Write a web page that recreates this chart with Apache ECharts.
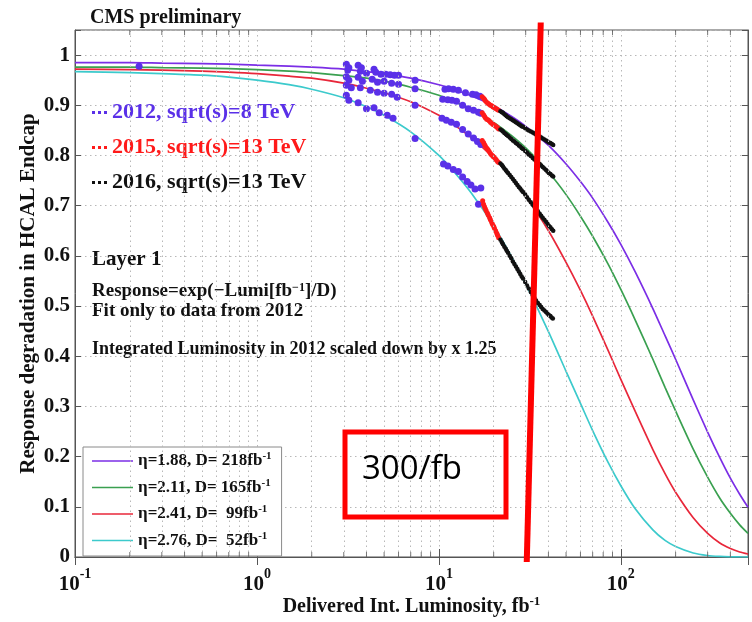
<!DOCTYPE html>
<html><head><meta charset="utf-8">
<script src="https://cdn.jsdelivr.net/npm/echarts@6/dist/echarts.min.js"></script>
<style>html,body{margin:0;padding:0;background:#fff}#c{width:752px;height:622px}</style>
</head><body><div id="c"></div>
<script>
// ---------- data ----------
const lumi = [0.1, 0.2, 0.3, 0.5, 0.7, 1, 1.5, 2, 3, 4, 5, 7, 10, 12, 15, 20, 25, 30, 40, 50, 60, 70, 85, 100, 120, 150, 175, 200, 250, 300, 350, 400, 450, 500];
const fit188 = [0.985,0.985,0.984,0.983,0.982,0.980,0.978,0.976,0.972,0.967,0.963,0.954,0.941,0.932,0.919,0.899,0.878,0.858,0.820,0.783,0.748,0.715,0.667,0.623,0.568,0.495,0.441,0.394,0.313,0.249,0.198,0.157,0.125,0.099];
const fit211 = [0.976,0.976,0.975,0.974,0.973,0.971,0.968,0.965,0.959,0.954,0.948,0.936,0.920,0.908,0.892,0.866,0.840,0.815,0.767,0.722,0.679,0.639,0.584,0.533,0.472,0.394,0.338,0.291,0.215,0.159,0.117,0.087,0.064,0.047];
const fit241 = [0.972,0.971,0.970,0.968,0.966,0.963,0.958,0.954,0.944,0.934,0.925,0.907,0.880,0.862,0.836,0.795,0.756,0.719,0.650,0.587,0.531,0.480,0.412,0.354,0.290,0.214,0.166,0.129,0.078,0.047,0.028,0.017,0.010,0.006];
const fit276 = [0.967,0.965,0.963,0.960,0.956,0.950,0.941,0.932,0.915,0.897,0.880,0.847,0.800,0.769,0.726,0.660,0.599,0.544,0.449,0.370,0.306,0.252,0.189,0.142,0.096,0.054,0.033,0.021,0.008,0.003,0.0012,0.0004,0.0001,0.0];
const fitNames = ['η=1.88, D= 218fb', 'η=2.11, D= 165fb', 'η=2.41, D=  99fb', 'η=2.76, D=  52fb'];
const yearNames = ['2012, sqrt(s)=8 TeV', '2015, sqrt(s)=13 TeV', '2016, sqrt(s)=13 TeV'];

const pts2012 = [
  [0.225,0.978],
  [3.1,0.982],[3.15,0.970],[3.2,0.975],[3.6,0.980],[3.7,0.968],[3.75,0.975],[4.0,0.964],[4.4,0.972],[4.5,0.966],[4.8,0.962],[5.1,0.962],[5.4,0.961],[5.7,0.960],[6.0,0.960],[7.4,0.950],[10.8,0.932],[11.3,0.933],[12.0,0.932],[12.8,0.930],[14.0,0.925],[15.3,0.922],[16.0,0.921],[16.8,0.918],
  [3.1,0.957],[3.2,0.950],[3.6,0.956],[3.8,0.948],[4.3,0.952],[4.6,0.946],[5.0,0.948],[5.5,0.944],[6.0,0.942],[7.4,0.933],[10.5,0.912],[11.2,0.911],[11.8,0.910],[12.5,0.908],[13.5,0.900],[14.5,0.893],[15.5,0.890],[16.5,0.886],[17.0,0.884],
  [3.1,0.940],[3.3,0.935],[3.7,0.935],[4.2,0.930],[4.6,0.926],[5.0,0.924],[5.5,0.922],[5.9,0.916],[7.4,0.900],[10.4,0.874],[11.0,0.870],[11.7,0.866],[12.5,0.862],[13.5,0.852],[14.5,0.843],[15.5,0.835],[16.3,0.828],[17.0,0.822],
  [3.1,0.920],[3.2,0.910],[3.6,0.905],[4.0,0.893],[4.4,0.895],[4.7,0.885],[5.2,0.880],[5.6,0.874],[7.4,0.834],[10.6,0.783],[11.2,0.779],[12.0,0.772],[12.8,0.768],[13.5,0.757],[14.3,0.748],[15.0,0.741],[15.8,0.733],[17.0,0.735],[16.5,0.703]
];
const pts2015 = [
  [17.3,0.917],[17.6,0.914],[17.8,0.912],[18.0,0.909],[18.3,0.906],[18.6,0.904],[18.9,0.902],[19.2,0.900],[19.5,0.899],[19.8,0.897],[20.0,0.896],[20.4,0.894],[20.7,0.893],[21.0,0.891],[21.3,0.890],
  [17.3,0.885],[17.6,0.881],[17.8,0.878],[18.0,0.875],[18.3,0.872],[18.6,0.871],[18.9,0.869],[19.2,0.866],[19.5,0.864],[19.8,0.862],[20.0,0.861],[20.4,0.859],[20.7,0.857],[21.0,0.855],[21.3,0.853],
  [17.3,0.830],[17.6,0.826],[17.8,0.822],[18.0,0.819],[18.3,0.815],[18.6,0.812],[18.9,0.808],[19.2,0.804],[19.5,0.801],[19.8,0.799],[20.0,0.797],[20.4,0.794],[20.7,0.791],[21.0,0.788],[21.3,0.786],
  [17.4,0.710],[17.6,0.703],[17.8,0.698],[18.0,0.694],[18.2,0.690],[18.5,0.685],[18.7,0.681],[19.0,0.676],[19.2,0.672],[19.5,0.667],[19.7,0.663],[20.0,0.659],[20.2,0.655],[20.5,0.650],[20.8,0.645],[21.0,0.641],[21.3,0.636]
];
const pts2016 = [
  [21.8,0.888],[22.2,0.886],[22.5,0.885],[22.9,0.882],[23.3,0.880],[23.6,0.878],[24.0,0.876],[24.5,0.874],[25.0,0.872],[25.5,0.870],[26.0,0.868],[26.5,0.866],[27.0,0.864],[27.5,0.862],[28.0,0.860],[28.5,0.858],[29.0,0.857],[29.8,0.854],[30.5,0.852],[31.2,0.850],[32.0,0.848],[32.8,0.846],[33.5,0.844],[34.2,0.842],[35.0,0.840],[35.8,0.838],[36.5,0.836],[37.2,0.834],[38.0,0.832],[38.8,0.830],[39.5,0.828],[40.2,0.826],[41.0,0.825],[41.8,0.823],[42.5,0.821],
  [21.8,0.852],[22.2,0.850],[22.5,0.848],[22.9,0.845],[23.3,0.843],[23.6,0.841],[24.0,0.839],[24.5,0.836],[25.0,0.833],[25.5,0.830],[26.0,0.828],[26.5,0.825],[27.0,0.823],[27.5,0.820],[28.0,0.818],[28.5,0.815],[29.0,0.813],[29.8,0.809],[30.5,0.806],[31.2,0.802],[32.0,0.799],[32.8,0.795],[33.5,0.792],[34.2,0.789],[35.0,0.786],[35.8,0.783],[36.5,0.780],[37.2,0.777],[38.0,0.774],[38.8,0.771],[39.5,0.768],[40.2,0.765],[41.0,0.763],[41.8,0.760],[42.5,0.758],
  [21.8,0.784],[22.2,0.781],[22.5,0.778],[22.9,0.774],[23.3,0.771],[23.6,0.768],[24.0,0.765],[24.5,0.761],[25.0,0.757],[25.5,0.753],[26.0,0.749],[26.5,0.745],[27.0,0.741],[27.5,0.737],[28.0,0.734],[28.5,0.730],[29.0,0.727],[29.8,0.722],[30.5,0.717],[31.2,0.712],[32.0,0.707],[32.8,0.702],[33.5,0.698],[34.2,0.693],[35.0,0.689],[35.8,0.684],[36.5,0.680],[37.2,0.676],[38.0,0.672],[38.8,0.668],[39.5,0.664],[40.2,0.660],[41.0,0.657],[41.8,0.653],[42.5,0.650],
  [21.8,0.632],[22.2,0.627],[22.5,0.623],[22.9,0.618],[23.3,0.614],[23.6,0.610],[24.0,0.606],[24.5,0.600],[25.0,0.595],[25.5,0.589],[26.0,0.584],[26.5,0.579],[27.0,0.574],[27.5,0.569],[28.0,0.564],[28.5,0.559],[29.0,0.555],[29.8,0.548],[30.5,0.541],[31.2,0.535],[32.0,0.528],[32.8,0.522],[33.5,0.516],[34.2,0.511],[35.0,0.506],[35.8,0.502],[36.5,0.498],[37.2,0.494],[38.0,0.491],[38.8,0.488],[39.5,0.485],[40.2,0.482],[41.0,0.480],[41.6,0.477],[42.3,0.475]
];
const minorTicks = [0.2,0.3,0.4,0.5,0.6,0.7,0.8,0.9,2,3,4,5,6,7,8,9,20,30,40,50,60,70,80,90,200,300,400];
const redLine = [[30.4,-0.01],[36.3,1.065]];

// ---------- styles ----------
const SERIF = '"Liberation Serif","Times New Roman",serif';
const fitColors = ['#7b2ee6', '#3aa050', '#e8273a', '#3ccacc'];
const yearColors = ['#5a30e8', '#ff1a1a', '#111111'];
const GRID = '#b8b8b8';
const AX = '#555';

const chart = echarts.init(document.getElementById('c'), null, {renderer: 'canvas'});
const fits = [fit188, fit211, fit241, fit276];

const series = [];
fits.forEach((f, i) => {
  series.push({
    name: fitNames[i], type: 'line', data: lumi.map((x, k) => [x, f[k]]),
    smooth: 0.25, showSymbol: false, symbol: 'none',
    lineStyle: {color: fitColors[i], width: 1.7}, itemStyle: {color: fitColors[i]}, z: 3
  });
});
[pts2012, pts2015, pts2016].forEach((p, i) => {
  series.push({
    name: yearNames[i], type: 'scatter', data: p, symbol: 'circle',
    symbolSize: [7, 5, 4.5][i], itemStyle: {color: yearColors[i], opacity: 1}, z: 4
  });
});
series.push({
  name: 'minorB', type: 'scatter', data: minorTicks.map(v => [v, 0]), symbol: 'rect',
  symbolSize: [1, 5], symbolOffset: [0, -2.5], itemStyle: {color: AX}, silent: true, z: 5,
  markLine: {
    silent: true, symbol: ['none', 'none'], label: {show: false},
    lineStyle: {color: GRID, type: [1.5, 3.5], width: 1},
    data: minorTicks.map(v => ({xAxis: v}))
  }
});
series.push({
  name: 'minorT', type: 'scatter', data: minorTicks.map(v => [v, 1.05]), symbol: 'rect',
  symbolSize: [1, 5], symbolOffset: [0, 2.5], itemStyle: {color: AX}, silent: true, z: 5
});
series.push({
  name: 'annot', type: 'line', data: redLine, clip: false, symbol: 'none', silent: true,
  lineStyle: {color: '#ff0000', width: 6}, z: 10
});

const supRich = {
  m: {fontFamily: SERIF, fontWeight: 'bold', fontSize: 17, lineHeight: 20, color: '#111'},
  sup: {fontFamily: SERIF, fontWeight: 'bold', fontSize: 11, lineHeight: 11, verticalAlign: 'top', color: '#111'}
};

const option = {
  animation: false,
  backgroundColor: '#fff',
  title: {text: 'CMS preliminary', left: 85, top: 3,
    textStyle: {fontFamily: SERIF, fontWeight: 'bold', fontSize: 20, color: '#111'}},
  grid: {left: 75, right: 4, top: 30, bottom: 62, show: true, borderColor: AX, borderWidth: 1},
  legend: [
    {
      orient: 'vertical', left: 92, top: 101, padding: 0, itemGap: 12,
      itemWidth: 15, itemHeight: 3,
      icon: 'path://M0,0h2v2h-2zM4,0h2v2h-2zM8,0h2v2h-2z',
      textStyle: {fontFamily: SERIF, fontWeight: 'bold', fontSize: 22, lineHeight: 23},
      data: yearNames.map((n, i) => ({name: n, textStyle: {color: yearColors[i]}})),
      selectedMode: false
    },
    {
      orient: 'vertical', left: 83, top: 447, padding: [4, 10, 7, 9], itemGap: 8,
      itemWidth: 41, itemHeight: 1.5, icon: 'rect',
      backgroundColor: '#fff', borderColor: '#8a8a8a', borderWidth: 1,
      data: fitNames, selectedMode: false,
      formatter: n => '{m|' + n + '}{sup|-1}',
      textStyle: {rich: supRich}
    }
  ],
  xAxis: [
    {
      type: 'log', logBase: 10, min: 0.1, max: 500, position: 'bottom',
      axisLine: {show: true, lineStyle: {color: AX}},
      axisTick: {show: true, inside: true, length: 8, lineStyle: {color: AX}},
      splitLine: {show: true, lineStyle: {color: GRID, type: [1.5, 3.5]}},
      axisLabel: {
        margin: 10,
        formatter: v => {
          const e = Math.log10(v), r = Math.round(e);
          return Math.abs(e - r) < 1e-6 ? '{b|10}{s|' + r + '}' : '';
        },
        rich: {
          b: {fontFamily: SERIF, fontWeight: 'bold', fontSize: 21, lineHeight: 28, verticalAlign: 'bottom', color: '#111'},
          s: {fontFamily: SERIF, fontWeight: 'bold', fontSize: 14, lineHeight: 14, verticalAlign: 'top', color: '#111'}
        }
      },
      name: '{b|Delivered Int. Luminosity, fb}{s|-1}', nameLocation: 'middle', nameGap: 38,
      nameMoveOverlap: false,
      nameTextStyle: {
        rich: {
          b: {fontFamily: SERIF, fontWeight: 'bold', fontSize: 20, lineHeight: 24, color: '#111'},
          s: {fontFamily: SERIF, fontWeight: 'bold', fontSize: 13, lineHeight: 13, verticalAlign: 'top', color: '#111'}
        }
      }
    },
    {
      type: 'log', logBase: 10, min: 0.1, max: 500, position: 'top',
      axisLine: {show: true, lineStyle: {color: AX}},
      axisTick: {show: true, inside: true, length: 8, lineStyle: {color: AX}},
      axisLabel: {show: false}, splitLine: {show: false}
    }
  ],
  yAxis: [
    {
      type: 'value', min: 0, max: 1.05, interval: 0.1, position: 'left',
      axisLine: {show: true, lineStyle: {color: AX}},
      axisTick: {show: true, inside: true, length: 6, lineStyle: {color: AX}},
      splitLine: {show: true, lineStyle: {color: GRID, type: [1.5, 3.5]}},
      axisLabel: {
        margin: 5, fontFamily: SERIF, fontWeight: 'bold', fontSize: 21, color: '#111',
        formatter: v => Math.abs(v * 10 - Math.round(v * 10)) < 1e-6 ? String(+v.toFixed(1)) : ''
      },
      name: 'Response degradation in HCAL Endcap', nameLocation: 'middle', nameGap: 36,
      nameMoveOverlap: false,
      nameTextStyle: {fontFamily: SERIF, fontWeight: 'bold', fontSize: 21, color: '#111'}
    },
    {
      type: 'value', min: 0, max: 1.05, interval: 0.1, position: 'right',
      axisLine: {show: true, lineStyle: {color: AX}},
      axisTick: {show: true, inside: true, length: 6, lineStyle: {color: AX}},
      axisLabel: {show: false}, splitLine: {show: false}
    }
  ],
  graphic: [
    {type: 'text', left: 92, top: 249, style: {text: 'Layer 1', font: 'bold 21px ' + SERIF, fill: '#111'}},
    {type: 'text', left: 92, top: 282, style: {
      text: 'Response=exp(−Lumi[fb{sup|−1}]/D)', font: 'bold 19px ' + SERIF, fill: '#111',
      rich: {sup: {fontFamily: SERIF, fontWeight: 'bold', fontSize: 12, verticalAlign: 'top', lineHeight: 12, fill: '#111'}}
    }},
    {type: 'text', left: 92, top: 302, style: {text: 'Fit only to data from 2012', font: 'bold 19px ' + SERIF, fill: '#111'}},
    {type: 'text', left: 92, top: 340, style: {text: 'Integrated Luminosity in 2012 scaled down by x 1.25', font: 'bold 18px ' + SERIF, fill: '#111'}},
    {type: 'rect', shape: {x: 345, y: 432, width: 161, height: 85}, style: {fill: 'none', stroke: '#ff0000', lineWidth: 5}, z: 20},
    {type: 'text', left: 362, top: 453, style: {text: '300/fb', font: '33px "Open Sans", sans-serif', fill: '#000'}, z: 20}
  ],
  series: series
};
chart.setOption(option);
</script>
</body></html>
